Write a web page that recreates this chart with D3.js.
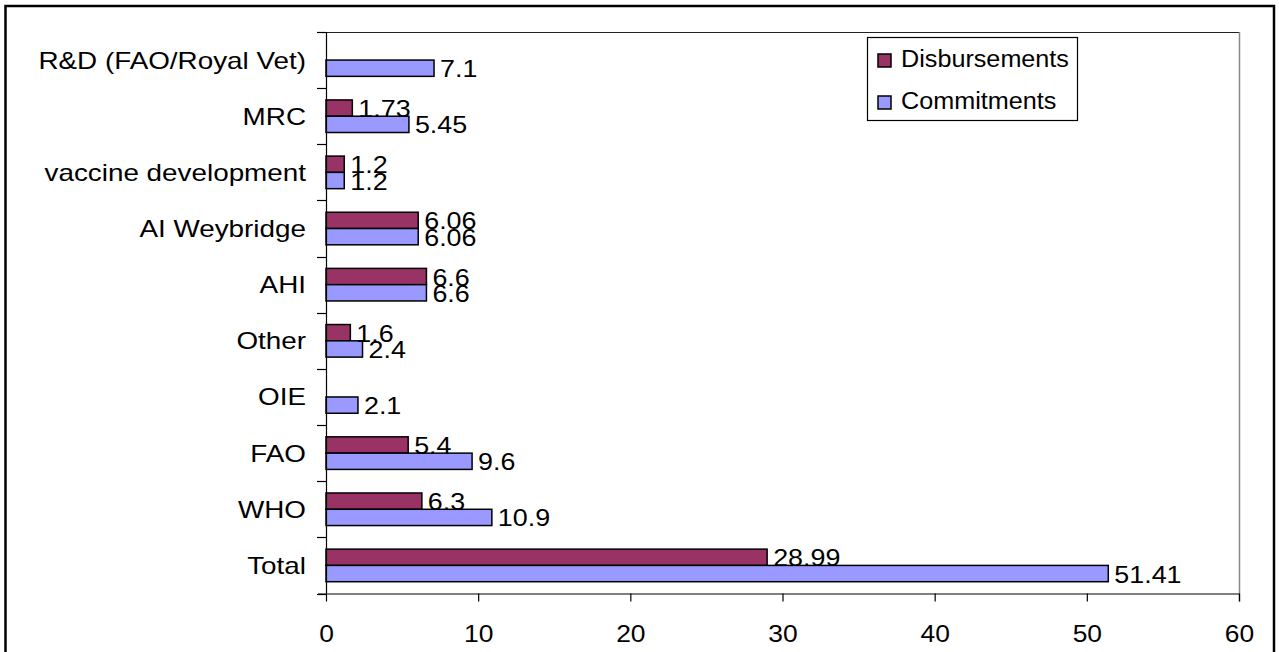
<!DOCTYPE html>
<html>
<head>
<meta charset="utf-8">
<script src="https://cdn.jsdelivr.net/npm/d3@7"></script>
<style>
  html, body { margin: 0; padding: 0; background: #fff; }
  svg { display: block; }
  text { font-family: "Liberation Sans", Arial, sans-serif; fill: #000; }
</style>
</head>
<body>
<svg id="chart" width="1279" height="652"></svg>
<script>
const categories = ["R&D (FAO/Royal Vet)", "MRC", "vaccine development", "AI Weybridge", "AHI", "Other", "OIE", "FAO", "WHO", "Total"];
const disbursements = [null, 1.73, 1.2, 6.06, 6.6, 1.6, null, 5.4, 6.3, 28.99];
const commitments = [7.1, 5.45, 1.2, 6.06, 6.6, 2.4, 2.1, 9.6, 10.9, 51.41];
const seriesNames = ["Disbursements", "Commitments"];
const seriesColors = ["#993366", "#9999FF"];
const xTicks = [0, 10, 20, 30, 40, 50, 60];

const FS = 24;
const svg = d3.select("#chart");

// outer chart border
svg.append("rect").attr("x", 5.5).attr("y", 6).attr("width", 1268.5).attr("height", 660)
  .attr("fill", "none").attr("stroke", "#000").attr("stroke-width", 2.5);

const L = 326, R = 1239, T = 32, B = 593.5;
const x = d3.scaleLinear().domain([0, 60]).range([L, R]);
const y = d3.scaleBand().domain(categories).range([T, B]).padding(0);
const inner = d3.scaleBand().domain(seriesNames).range([0.21 * y.bandwidth(), 0.79 * y.bandwidth()]);

// plot area border (top and right)
svg.append("line").attr("x1", L).attr("x2", R).attr("y1", T + 0.5).attr("y2", T + 0.5).attr("stroke", "#222").attr("stroke-width", 1.2);
svg.append("line").attr("x1", R + 0.5).attr("x2", R + 0.5).attr("y1", T).attr("y2", B + 8).attr("stroke", "#888").attr("stroke-width", 1.5);

// bars
const rows = categories.map((c, i) => ({ c, vals: [disbursements[i], commitments[i]] }));
const g = svg.append("g");
rows.forEach(r => {
  r.vals.forEach((v, si) => {
    if (v == null) return;
    const by = y(r.c) + inner(seriesNames[si]);
    g.append("rect")
      .attr("x", x(0)).attr("y", by)
      .attr("width", x(v) - x(0)).attr("height", inner.bandwidth())
      .attr("fill", seriesColors[si]).attr("stroke", "#000").attr("stroke-width", 1.5);
  });
});
// value labels
rows.forEach(r => {
  r.vals.forEach((v, si) => {
    if (v == null) return;
    const by = y(r.c) + inner(seriesNames[si]) + inner.bandwidth() / 2;
    g.append("text")
      .attr("transform", `translate(${x(v) + 6},${by + 9}) scale(1.12,1)`)
      .attr("font-size", FS).text(String(v));
  });
});

// x axis
const xAxis = d3.axisBottom(x).tickValues(xTicks).tickSize(8).tickPadding(23).tickFormat(d3.format("d"));
const xg = svg.append("g").attr("transform", `translate(0,${B})`).call(xAxis);
xg.select(".domain").attr("stroke", "#000").attr("stroke-width", 1.2).attr("d", `M${L - 8},0.5H${R}`);
xg.selectAll(".tick line").attr("stroke", "#000").attr("stroke-width", 1.2);
xg.selectAll(".tick text").attr("font-size", FS).attr("font-family", "Liberation Sans, Arial, sans-serif")
  .attr("fill", "#000").attr("transform", "scale(1.1,1)");

// y axis
const yAxis = d3.axisLeft(y).tickSize(0).tickPadding(20);
const yg = svg.append("g").attr("transform", `translate(${L},0)`).call(yAxis);
yg.select(".domain").attr("stroke", "#000").attr("stroke-width", 1.2).attr("d", `M0.5,${T}V${B}`);
yg.selectAll(".tick text").each(function () {
  const t = d3.select(this);
  t.attr("x", null).attr("dy", null)
    .attr("transform", `translate(-20,8.5) scale(1.16,1)`)
    .attr("font-size", FS).attr("font-family", "Liberation Sans, Arial, sans-serif").attr("fill", "#000");
});
// band boundary ticks
const bounds = categories.map(c => y(c)).concat([B]);
yg.selectAll(".btick").data(bounds).enter().append("line")
  .attr("x1", -9).attr("x2", 0).attr("y1", d => Math.round(d) + 0.5).attr("y2", d => Math.round(d) + 0.5)
  .attr("stroke", "#000").attr("stroke-width", 1.2);

// legend
const lg = svg.append("g");
lg.append("rect").attr("x", 867.5).attr("y", 37.5).attr("width", 210).attr("height", 83)
  .attr("fill", "#fff").attr("stroke", "#000").attr("stroke-width", 1.2);
seriesNames.forEach((s, i) => {
  const cy = 60.5 + i * 42;
  lg.append("rect").attr("x", 878).attr("y", cy - 6.5).attr("width", 13).attr("height", 13)
    .attr("fill", seriesColors[i]).attr("stroke", "#000").attr("stroke-width", 1.5);
  lg.append("text").attr("transform", `translate(901,${cy + 6.5}) scale(1.05,1)`)
    .attr("font-size", FS).text(s);
});
</script>
</body>
</html>
